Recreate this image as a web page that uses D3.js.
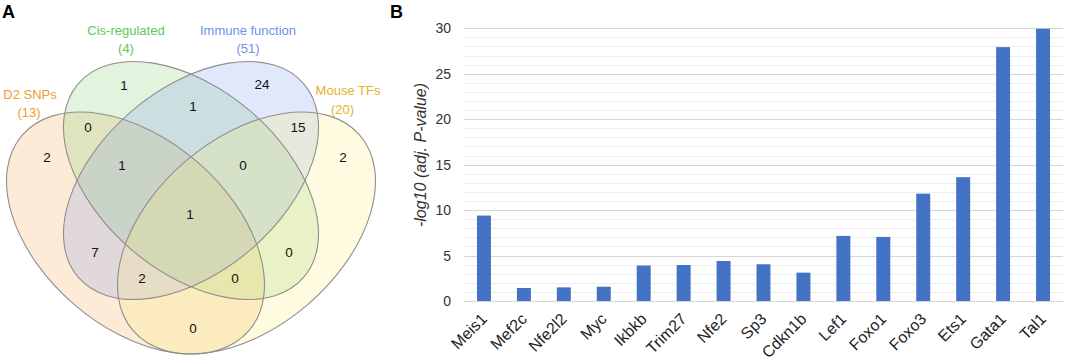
<!DOCTYPE html>
<html><head><meta charset="utf-8">
<script src="https://cdn.jsdelivr.net/npm/d3@7"></script>
<style>
body{margin:0;background:#fff;}
svg{display:block;font-family:"Liberation Sans",Arial,Helvetica,sans-serif;}
</style></head><body>
<svg id="chart" width="1065" height="364"></svg>
<script>
// ---------- Panel A data (Venn) ----------
const setNames = ["D2 SNPs", "Cis-regulated", "Immune function", "Mouse TFs"];
const setSizes = [13, 4, 51, 20];
const setColors = ["#F7A24A", "#7BCB68", "#7C95EE", "#FFEE70"];
const setLabelColors = ["#F39A2F", "#5DC95B", "#6F8FEC", "#E3B22C"];
// regions: D2 only, Cis only, Immune only, Mouse only, D2&Cis, Cis&Imm, Imm&Mouse,
// D2&Cis&Imm, Cis&Imm&Mouse, all four, D2&Imm, Cis&Mouse, D2&Imm&Mouse, D2&Cis&Mouse, D2&Mouse
const regionNames = ["1","2","3","4","12","23","34","123","234","1234","13","24","134","124","14"];
const regionCounts = [2, 1, 24, 2, 0, 1, 15, 1, 0, 1, 7, 0, 2, 0, 0];

// ---------- Panel B data (bars) ----------
const genes = ["Meis1","Mef2c","Nfe2l2","Myc","Ikbkb","Trim27","Nfe2","Sp3","Cdkn1b","Lef1","Foxo1","Foxo3","Ets1","Gata1","Tal1"];
const negLogP = [9.4, 1.43, 1.5, 1.57, 3.9, 3.96, 4.4, 4.04, 3.12, 7.16, 7.05, 11.81, 13.62, 27.93, 29.95];
const yTicks = [0, 5, 10, 15, 20, 25, 30];
const yTitle = "-log10 (adj. P-value)";

// ---------- layout ----------
const svg = d3.select("#chart");
const vx = d3.scaleLinear().domain([0, 1]).range([0, 382]);
const vy = d3.scaleLinear().domain([0, 1]).range([0, 364]);
const ellipses = [
  {cx: 135.5/382, cy: 233/364, a: 149.7, b: 94.2, r: 40.75},
  {cx: 191/382, cy: 180.5/364, a: 148.6, b: 91.3, r: 40.6},
  {cx: 191/382, cy: 180.5/364, a: 148.6, b: 91.3, r: -40.6},
  {cx: 246.5/382, cy: 233/364, a: 149.7, b: 94.2, r: -40.75}
];
const regionPos = [
  [47,157],[124,85],[262,84],[343,157],[88,127],[193,106],[298,127],
  [122,165],[243,165],[190,214],[95,252],[289,252],[142,278],[235,278],[193,328]
];
const setLabelPos = [
  [[30,94],[29,112]], [[126,30],[126,48]], [[248,30],[248,48]], [[348,90],[342.5,109]]
];

const gA = svg.append("g");
gA.selectAll("ellipse.fill").data(ellipses).join("ellipse")
  .attr("class","fill")
  .attr("cx", d => vx(d.cx)).attr("cy", d => vy(d.cy))
  .attr("rx", d => d.a).attr("ry", d => d.b)
  .attr("transform", d => `rotate(${d.r} ${vx(d.cx)} ${vy(d.cy)})`)
  .attr("fill", (d, i) => setColors[i]).attr("fill-opacity", 0.22).attr("stroke", "none");
gA.selectAll("ellipse.line").data(ellipses).join("ellipse")
  .attr("class","line")
  .attr("cx", d => vx(d.cx)).attr("cy", d => vy(d.cy))
  .attr("rx", d => d.a).attr("ry", d => d.b)
  .attr("transform", d => `rotate(${d.r} ${vx(d.cx)} ${vy(d.cy)})`)
  .attr("fill", "none").attr("stroke", "#8f8f8f").attr("stroke-width", 1.1);

gA.selectAll("text.count").data(regionCounts).join("text")
  .attr("class","count")
  .attr("x", (d, i) => regionPos[i][0]).attr("y", (d, i) => regionPos[i][1])
  .attr("text-anchor","middle").attr("dominant-baseline","central")
  .attr("font-size", 13.5).attr("fill", "#111").text(d => d);

setNames.forEach((name, i) => {
  gA.append("text").attr("x", setLabelPos[i][0][0]).attr("y", setLabelPos[i][0][1])
    .attr("text-anchor","middle").attr("dominant-baseline","central")
    .attr("font-size", 13).attr("fill", setLabelColors[i]).text(name);
  gA.append("text").attr("x", setLabelPos[i][1][0]).attr("y", setLabelPos[i][1][1])
    .attr("text-anchor","middle").attr("dominant-baseline","central")
    .attr("font-size", 13).attr("fill", setLabelColors[i]).text(`(${setSizes[i]})`);
});

svg.append("text").attr("x", 2).attr("y", 18).attr("font-size", 18).attr("font-weight","bold").text("A");
svg.append("text").attr("x", 390).attr("y", 18).attr("font-size", 18).attr("font-weight","bold").text("B");

// ---------- Panel B ----------
const x = d3.scaleBand().domain(genes).range([464, 1063]).paddingInner(0.65).paddingOuter(0.325);
const y = d3.scaleLinear().domain([0, 30]).range([301, 28.3]);
const gB = svg.append("g");
const minor = d3.range(1, 31).filter(v => v % 5 !== 0);
gB.selectAll("line.minor").data(minor).join("line")
  .attr("x1", 464).attr("x2", 1063).attr("y1", d => Math.round(y(d)) + 0.5).attr("y2", d => Math.round(y(d)) + 0.5)
  .attr("stroke", "#EEEEEE").attr("stroke-width", 1);
gB.selectAll("line.major").data(yTicks).join("line")
  .attr("x1", 464).attr("x2", 1063).attr("y1", d => Math.round(y(d)) + 0.5).attr("y2", d => Math.round(y(d)) + 0.5)
  .attr("stroke", "#D6D6D6").attr("stroke-width", 1);

const yAxis = d3.axisLeft(y).tickValues(yTicks).tickSize(0).tickPadding(0);
const ya = gB.append("g").attr("transform", "translate(451,0)").call(yAxis);
ya.select(".domain").remove();
ya.selectAll("text").attr("font-size", 14).attr("fill", "#333").attr("font-family", "Liberation Sans, Arial, sans-serif");

gB.selectAll("rect.bar").data(negLogP).join("rect")
  .attr("class","bar")
  .attr("x", (d, i) => x(genes[i])).attr("width", x.bandwidth())
  .attr("y", d => y(d)).attr("height", d => y(0) - y(d))
  .attr("fill", "#4472C4");

gB.selectAll("text.xlab").data(genes).join("text")
  .attr("class","xlab")
  .attr("transform", d => `translate(${x(d) + x.bandwidth()/2 + 4},320) rotate(-45)`)
  .attr("text-anchor", "end")
  .attr("font-size", 16).attr("fill", "#222")
  .text(d => d);

gB.append("text").attr("transform", "translate(420,155) rotate(-90)")
  .attr("text-anchor","middle").attr("dominant-baseline","central")
  .attr("font-size", 16).attr("font-style","italic").attr("fill", "#333").text(yTitle);
</script>
</body></html>
